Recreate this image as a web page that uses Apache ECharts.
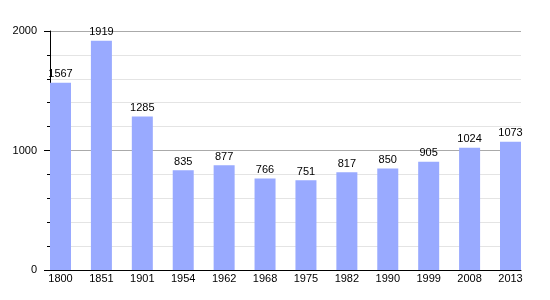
<!DOCTYPE html>
<html><head><meta charset="utf-8">
<script src="https://cdn.jsdelivr.net/npm/echarts@6/dist/echarts.min.js"></script>
<style>html,body{margin:0;padding:0;background:#fff}#c{width:550px;height:300px}</style>
</head><body><div id="c"></div>
<script>
const years = ['1800','1851','1901','1954','1962','1968','1975','1982','1990','1999','2008','2013'];
const population = [1567,1919,1285,835,877,766,751,817,850,905,1024,1073];
const yTicks = {min:0, max:2000, interval:1000};

const chart = echarts.init(document.getElementById('c'));
const font = 'Liberation Sans, Arial, sans-serif';
chart.setOption({
  animation:false,
  textStyle:{fontFamily:font},
  grid:[
    {left:60.5, right:39.5, top:31, bottom:30},
    {left:50, right:29, top:31, bottom:30}
  ],
  xAxis:[
    {gridIndex:0, type:'category', data:years, boundaryGap:false,
     axisLine:{show:false}, axisTick:{show:false},
     axisLabel:{color:'#000', fontSize:11, fontFamily:font, margin:3, interval:0}},
    {gridIndex:1, type:'value', min:0, max:1,
     axisLine:{show:true, lineStyle:{color:'#000', width:1}},
     axisTick:{show:false}, axisLabel:{show:false}, splitLine:{show:false}}
  ],
  yAxis:[
    {gridIndex:0, type:'value', min:yTicks.min, max:yTicks.max, show:false},
    {gridIndex:1, type:'value', min:yTicks.min, max:yTicks.max, interval:yTicks.interval,
     axisLine:{show:true, lineStyle:{color:'#000', width:1}},
     axisTick:{show:true, length:6, lineStyle:{color:'#000'}},
     minorTick:{show:true, splitNumber:5, length:3, lineStyle:{color:'#000'}},
     splitLine:{show:true, lineStyle:{color:'#aaaaaa', width:1}},
     minorSplitLine:{show:true, lineStyle:{color:'#e4e4e4', width:1}},
     axisLabel:{color:'#000', fontSize:11, fontFamily:font, margin:13,
       formatter:function(v){return String(v);}}}
  ],
  series:[{
    type:'bar', xAxisIndex:0, yAxisIndex:0, data:population, barWidth:21,
    itemStyle:{color:'#99aaff'},
    label:{show:true, position:'top', distance:3, color:'#000', fontSize:11, fontFamily:font}
  }]
});
</script></body></html>
